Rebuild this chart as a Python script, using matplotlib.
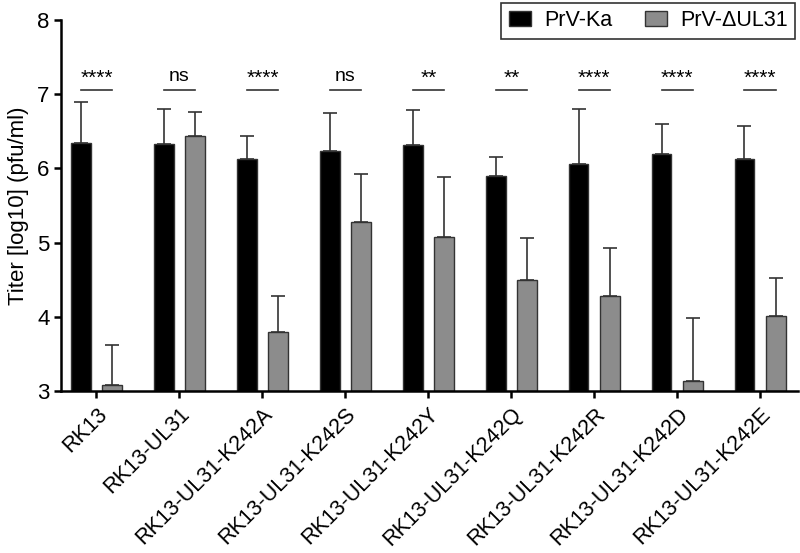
import matplotlib
matplotlib.use("Agg")
import matplotlib.pyplot as plt
import matplotlib.transforms as mtransforms
import numpy as np

plt.rcParams['font.family'] = ['Liberation Sans', 'DejaVu Sans']

categories = ["RK13", "RK13-UL31", "RK13-UL31-K242A", "RK13-UL31-K242S", "RK13-UL31-K242Y",
              "RK13-UL31-K242Q", "RK13-UL31-K242R", "RK13-UL31-K242D", "RK13-UL31-K242E"]
ka_mean = [6.34, 6.33, 6.13, 6.24, 6.31, 5.89, 6.06, 6.19, 6.13]
ka_err = [0.56, 0.47, 0.31, 0.50, 0.48, 0.26, 0.74, 0.41, 0.44]
dul31_mean = [3.08, 6.44, 3.80, 5.28, 5.07, 4.50, 4.28, 3.14, 4.01]
dul31_err = [0.54, 0.32, 0.48, 0.64, 0.81, 0.56, 0.65, 0.85, 0.51]
significance = ["****", "ns", "****", "ns", "**", "**", "****", "****", "****"]

fig = plt.figure(figsize=(8, 5.53), dpi=100)
ax = fig.add_axes([0.076, 0.293, 0.922, 0.671])

x = np.arange(len(categories))
w = 0.24
off = 0.19
base = 3
ax.bar(x - off, np.array(ka_mean) - base, w, bottom=base, color='black', edgecolor='#333333',
       linewidth=1, label='PrV-Ka', zorder=2)
ax.bar(x + off, np.array(dul31_mean) - base, w, bottom=base, color='#8c8c8c', edgecolor='#333333',
       linewidth=1, label='PrV-\u0394UL31', zorder=2)
ax.errorbar(x - off, ka_mean, yerr=[np.zeros(len(x)), ka_err], fmt='none', ecolor='#333333',
            elinewidth=1.2, capsize=5, capthick=1.2, zorder=1)
ax.errorbar(x + off, dul31_mean, yerr=[np.zeros(len(x)), dul31_err], fmt='none', ecolor='#333333',
            elinewidth=1.2, capsize=5, capthick=1.2, zorder=1)

for xi, s in zip(x, significance):
    ax.plot([xi - off, xi + off], [7.05, 7.05], color='#333333', lw=1.2)
    if s == 'ns':
        ax.text(xi, 7.12, s, ha='center', va='bottom', fontsize=14)
    else:
        ax.text(xi, 7.08, s, ha='center', va='bottom', fontsize=15)

ax.set_ylim(3, 8)
ax.set_xlim(-0.43, 8.46)
ax.set_yticks([3, 4, 5, 6, 7, 8])
ax.set_xticks(x)
ax.set_xticklabels(categories, rotation=45, ha='right', rotation_mode='anchor', fontsize=15.5)
shift = mtransforms.ScaledTranslation(8 / 100, 2 / 100, fig.dpi_scale_trans)
for lab in ax.get_xticklabels():
    lab.set_transform(lab.get_transform() + shift)
ax.tick_params(axis='y', labelsize=16, width=1.8, length=5, pad=3)
ax.tick_params(axis='x', width=1.8, length=5, pad=4)
ax.set_ylabel('Titer [log10] (pfu/ml)', fontsize=16, labelpad=6)
for sp in ['top', 'right']:
    ax.spines[sp].set_visible(False)
for sp in ['left', 'bottom']:
    ax.spines[sp].set_linewidth(1.8)

leg = fig.legend(loc='upper right', bbox_to_anchor=(0.997, 0.999), ncol=2, fontsize=15.5,
                 frameon=True, fancybox=False, edgecolor='black', handlelength=1.05,
                 handleheight=0.65, columnspacing=1.5, borderpad=0.35, handletextpad=0.6,
                 borderaxespad=0.1)
leg.get_frame().set_linewidth(1.2)

fig.savefig('out.png', dpi=100)
